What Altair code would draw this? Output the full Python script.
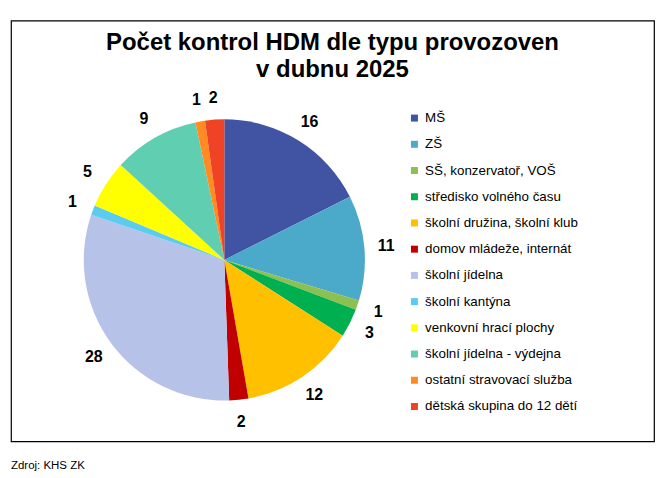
import altair as alt
import pandas as pd

categories = ["MŠ", "ZŠ", "SŠ, konzervatoř, VOŠ", "středisko volného času",
              "školní družina, školní klub", "domov mládeže, internát",
              "školní jídelna", "školní kantýna", "venkovní hrací plochy",
              "školní jídelna - výdejna", "ostatní stravovací služba",
              "dětská skupina do 12 dětí"]
values = [16, 11, 1, 3, 12, 2, 28, 1, 5, 9, 1, 2]
colors = ["#4154A4", "#4BA9C9", "#8CC152", "#00B050", "#FFC000", "#C00000",
          "#B7C2E8", "#5BCBF0", "#FFFF00", "#5FCEB1", "#FF8B22", "#F04225"]
title_lines = ["Počet kontrol HDM dle typu provozoven", "v dubnu 2025"]
source_text = "Zdroj: KHS ZK"

FONT = "Liberation Sans"
W, H = 645, 422
CX, CY, R = 214, 240, 141

df = pd.DataFrame({"cat": categories, "value": values, "idx": list(range(len(values)))})

base = alt.Chart(df).encode(
    theta=alt.Theta("value:Q", stack=True),
    order=alt.Order("idx:Q"),
)

arcs = base.mark_arc(radius=R).encode(
    x=alt.value(CX), y=alt.value(CY),
    color=alt.Color(
        "cat:N",
        scale=alt.Scale(domain=categories, range=colors),
        sort=categories,
        legend=alt.Legend(
            title=None, orient="none", legendX=398, legendY=91,
            symbolType="square", symbolSize=49, symbolStrokeWidth=0,
            labelFont=FONT, labelFontSize=13.4, labelColor="#000000",
            rowPadding=11.3, labelOffset=4, labelLimit=300,
        ),
    ),
)

labels = base.mark_text(radius=163, font=FONT, fontSize=16, fontWeight="bold",
                        color="#000000").encode(
    x=alt.value(CX), y=alt.value(CY),
    text=alt.Text("value:Q"),
)

title1 = alt.Chart(pd.DataFrame({"line": [title_lines[0]]})).mark_text(
    font=FONT, fontSize=24, fontWeight="bold", color="#000000",
    align="center", baseline="alphabetic").encode(
    x=alt.value(W / 2), y=alt.value(29), text="line:N")
title2 = alt.Chart(pd.DataFrame({"line": [title_lines[1]]})).mark_text(
    font=FONT, fontSize=24, fontWeight="bold", color="#000000",
    align="center", baseline="alphabetic").encode(
    x=alt.value(W / 2), y=alt.value(56), text="line:N")

source = alt.Chart(pd.DataFrame({"t": [source_text]})).mark_text(
    font=FONT, fontSize=11.5, color="#000000", align="left",
    baseline="middle").encode(
    x=alt.value(0), y=alt.value(447), text="t:N")

chart = alt.layer(arcs, labels, title1, title2, source).properties(
    width=W, height=H,
    autosize=alt.AutoSizeParams(type="none"),
    padding={"left": 3, "top": 12, "right": 5, "bottom": 30},
).configure(background="white").configure_view(stroke="#000000", strokeWidth=1.2)

chart.save("out.html", embed_options={"renderer": "svg", "actions": False})
